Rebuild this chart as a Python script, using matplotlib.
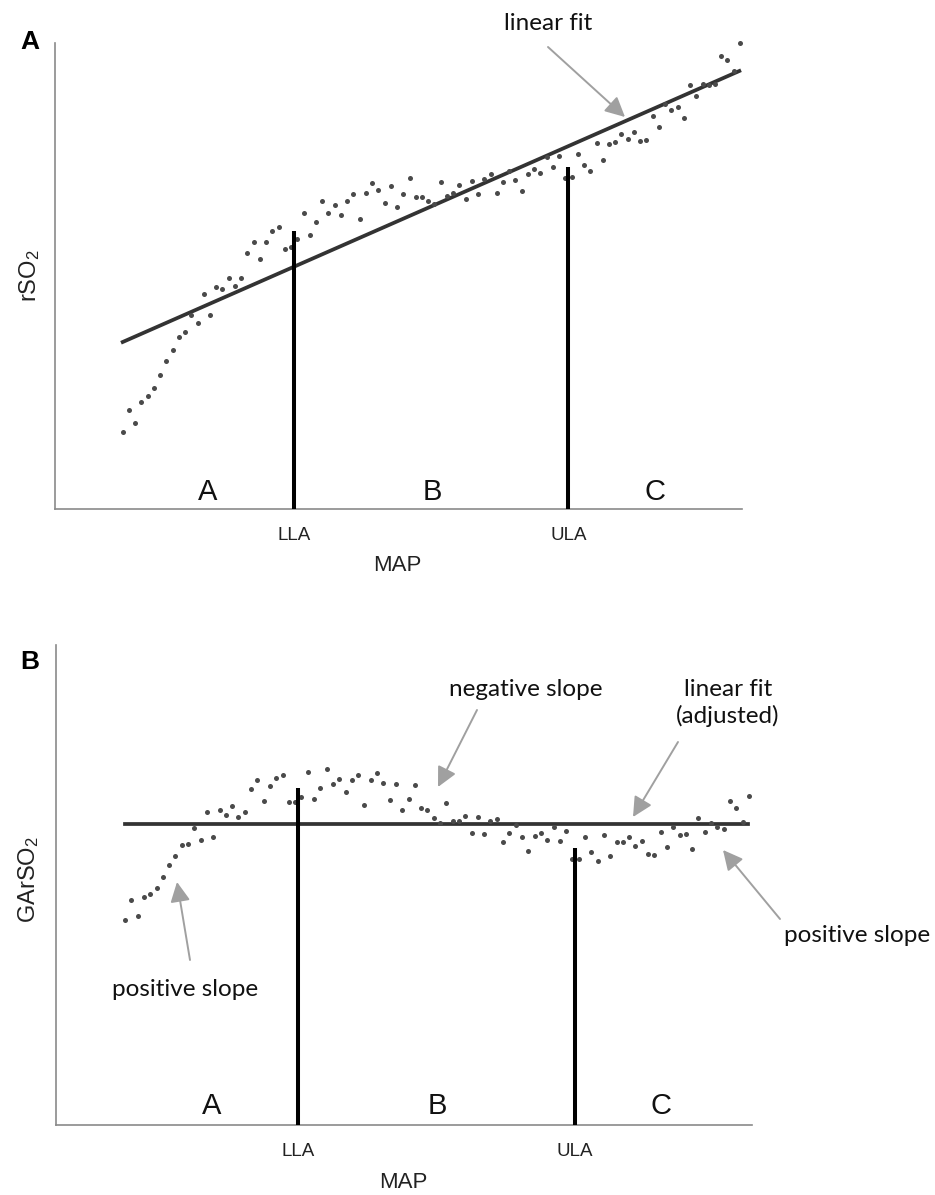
import matplotlib
matplotlib.use('Agg')
import matplotlib.pyplot as plt

plt.rcParams['font.family'] = ['Liberation Sans', 'DejaVu Sans']
plt.rcParams['mathtext.fontset'] = 'custom'
plt.rcParams['mathtext.rm'] = 'Liberation Sans'
plt.rcParams['mathtext.it'] = 'Liberation Sans'

# values (MAP sample index, arbitrary y units)
rso2 = [77, 99, 86, 107, 113, 121, 134, 148, 159, 172,
        177, 194, 186, 215, 194, 222, 220, 231, 223, 231,
        256, 267, 250, 267, 278, 282, 260, 262, 270, 296,
        274, 287, 308, 296, 304, 294, 308, 315, 290, 316,
        326, 319, 306, 323, 302, 315, 331, 312, 312, 308,
        305, 327, 313, 316, 324, 310, 328, 315, 330, 335,
        316, 327, 338, 329, 318, 335, 340, 336, 352, 342,
        353, 331, 332, 355, 344, 338, 366, 349, 365, 367,
        375, 370, 377, 368, 369, 393, 382, 405, 399, 402,
        391, 424, 413, 425, 424, 425, 453, 449, 438, 466]
garso2 = [205, 225, 209, 228, 231, 237, 248, 260, 269, 280,
          281, 297, 285, 313, 288, 315, 310, 319, 308, 313,
          336, 345, 324, 339, 347, 350, 323, 323, 328, 353,
          326, 337, 356, 341, 346, 333, 345, 350, 320, 345,
          352, 342, 325, 341, 315, 326, 340, 317, 315, 307,
          302, 322, 304, 304, 309, 292, 308, 291, 304, 306,
          283, 292, 300, 288, 274, 289, 292, 285, 298, 284,
          294, 266, 266, 288, 273, 264, 290, 269, 283, 283,
          288, 279, 284, 271, 270, 293, 278, 298, 290, 291,
          276, 307, 293, 302, 298, 296, 324, 317, 303, 329]

fit_x_a = [0, 98.9]
fit_y_a = [167, 438]
fit_x_b = [0, 98.9]
fit_y_b = [301, 301]

limit_x_a = [27.5, 71.5]
limit_top_a = [278, 342]
limit_x_b = [27.5, 71.4]
limit_top_b = [337, 277]
limit_labels = ['LLA', 'ULA']

W, H = 935, 1195


def px(x, y):
    # pixel position in the 935x1195 picture -> figure fraction
    return (x / W, 1 - y / H)


fig = plt.figure(figsize=(W / 100, H / 100), dpi=100)
ax_a = fig.add_axes([55 / W, 1 - 509 / H, (742 - 55) / W, (509 - 43) / H])
ax_b = fig.add_axes([56 / W, 1 - 1125 / H, (752 - 56) / W, (1125 - 645) / H])

panels = [
    (ax_a, rso2, fit_x_a, fit_y_a, limit_x_a, limit_top_a, 'rSO$_2$', (-10.86, 99.33), 466),
    (ax_b, garso2, fit_x_b, fit_y_b, limit_x_b, limit_top_b, 'GArSO$_2$', (-10.95, 99.5), 480),
]

for ax, vals, fx, fy, lx, ltop, ylab, xlim, ytop in panels:
    ax.scatter(range(len(vals)), vals, s=13, color='#4a4a4a', marker='o',
               linewidths=0, clip_on=False, zorder=3)
    ax.plot(fx, fy, color='#333333', lw=2.7, zorder=2)
    ax.vlines(lx, 0, ltop, color='black', lw=2.9, zorder=4)
    ax.set_xlim(*xlim)
    ax.set_ylim(0, ytop)
    for s in ['top', 'right']:
        ax.spines[s].set_visible(False)
    for s in ['left', 'bottom']:
        ax.spines[s].set_color('#8a8a8a')
        ax.spines[s].set_linewidth(1.2)
    ax.set_yticks([])
    ax.set_xticks(lx, limit_labels)
    ax.tick_params(axis='x', length=0, pad=13, labelsize=13.5, labelcolor='#222222')
    ax.set_xlabel('MAP', fontsize=16, color='#222222')
    ax.set_ylabel(ylab, fontsize=17, color='#222222', va='center')

ax_a.xaxis.set_label_coords(*px(397, 565), transform=fig.transFigure)
ax_b.xaxis.set_label_coords(*px(403, 1182), transform=fig.transFigure)
ax_a.xaxis.label.set_va('center')
ax_b.xaxis.label.set_va('center')
ax_a.yaxis.set_label_coords(*px(30, 276), transform=fig.transFigure)
ax_b.yaxis.set_label_coords(*px(29, 880), transform=fig.transFigure)

# panel letters
fig.text(*px(30, 42), 'A', fontsize=19, fontweight='bold', ha='center', va='center')
fig.text(*px(30, 662), 'B', fontsize=19, fontweight='bold', ha='center', va='center')

# region letters
for x, y, t in [(208, 492, 'A'), (432, 492, 'B'), (655, 492, 'C'),
                (212, 1106, 'A'), (437, 1106, 'B'), (661, 1106, 'C')]:
    fig.text(*px(x, y), t, fontsize=21, ha='center', va='center', color='#111111')

# annotations
note_font = dict(family=['Lato', 'DejaVu Sans'], fontsize=17.5, color='#111111')
arrow = dict(arrowstyle='-|>,head_length=0.6,head_width=0.3', color='#a0a0a0',
             lw=1.4, shrinkA=0, shrinkB=0, mutation_scale=20)

fig.text(*px(548, 24), 'linear fit', ha='center', va='center', **note_font)
fig.add_artist(plt.Annotation('', xy=px(625, 117), xytext=px(548, 47),
                              xycoords='figure fraction', arrowprops=arrow))

fig.text(*px(526, 690), 'negative slope', ha='center', va='center', **note_font)
fig.add_artist(plt.Annotation('', xy=px(438, 787), xytext=px(477, 710),
                              xycoords='figure fraction', arrowprops=arrow))

fig.text(*px(728, 703), 'linear fit\n(adjusted)', ha='center', va='center',
         linespacing=1.25, **note_font)
fig.add_artist(plt.Annotation('', xy=px(633, 817), xytext=px(678, 742),
                              xycoords='figure fraction', arrowprops=arrow))

fig.text(*px(185, 990), 'positive slope', ha='center', va='center', **note_font)
fig.add_artist(plt.Annotation('', xy=px(177, 882), xytext=px(190, 960),
                              xycoords='figure fraction', arrowprops=arrow))

fig.text(*px(857, 936), 'positive slope', ha='center', va='center', **note_font)
fig.add_artist(plt.Annotation('', xy=px(723, 850), xytext=px(780, 919),
                              xycoords='figure fraction', arrowprops=arrow))

fig.savefig('out.png', dpi=100)
